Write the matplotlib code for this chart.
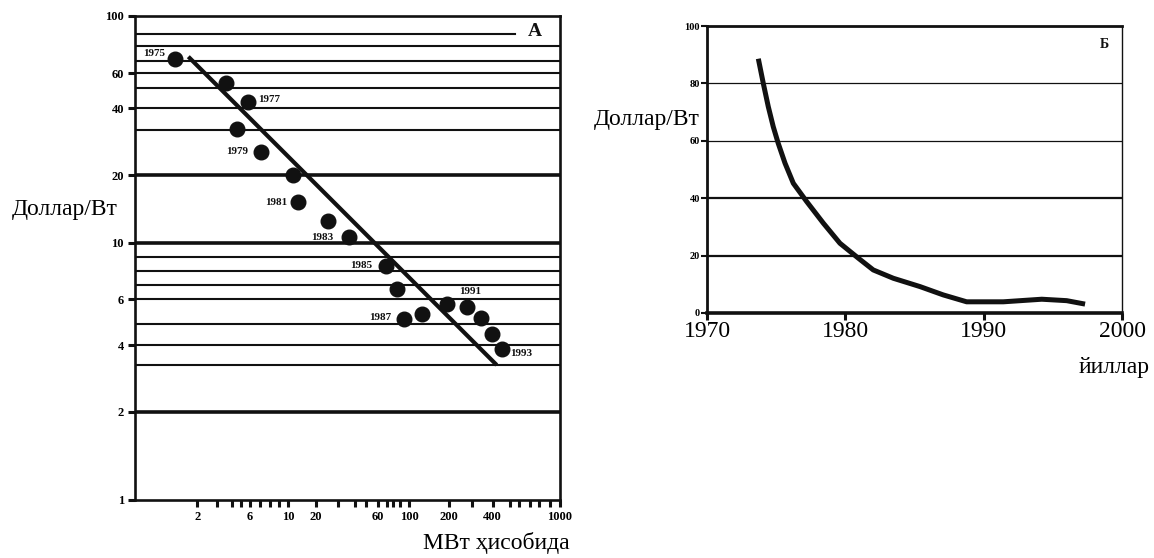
import numpy as np
import matplotlib
matplotlib.use("Agg")
import matplotlib.pyplot as plt

# --- panel A: module price vs cumulative production (log-log) ---
mw_values = [1.56, 3.59, 5.80, 4.6, 7.07, 11.4, 12.7, 25.2, 36.4,
             69.1, 84.9, 94.2, 124, 191, 274, 341, 395, 453]
price_a = [70.9, 53.1, 43.1, 30.3, 24.7, 20.0, 15.1, 12.5, 10.6,
           8.34, 6.68, 5.18, 5.38, 5.80, 5.68, 5.24, 4.50, 3.76]
year_labels = {0: "1975", 2: "1977", 4: "1979", 6: "1981", 8: "1983",
               9: "1985", 11: "1987", 14: "1991", 17: "1993"}
fit_mw = [1.81, 421]
fit_price = [72.6, 3.0]

x_ticks = [2, 3, 4, 5, 6, 7, 8, 9, 10, 20, 30, 40, 50, 60, 70, 80, 90,
           100, 200, 300, 400, 500, 600, 700, 800, 900, 1000]
x_labels = {2: "2", 6: "6", 10: "10", 20: "20", 60: "60", 100: "100",
            200: "200", 400: "400", 1000: "1000"}
y_ticks = [1, 2, 4, 6, 10, 20, 40, 60, 100]
grid_a = [2, 3, 4, 5, 6, 7, 8, 9, 10, 20, 30, 40, 50, 60, 70, 80, 90]
grid_a_thick = [2, 10, 20]

# --- panel B: price vs year ---
years_b = [1973.71, 1974.07, 1974.43, 1974.79, 1975.15, 1975.64, 1976.24,
           1977.21, 1978.41, 1979.61, 1980.94, 1982.02, 1983.47, 1985.40,
           1987.08, 1988.77, 1991.42, 1994.20, 1996.0, 1997.33]
price_b = [88.6, 80.0, 71.9, 64.9, 59.1, 52.2, 45.2, 38.8, 31.3, 24.3,
           19.1, 15.0, 12.1, 9.2, 6.3, 3.9, 3.9, 4.8, 4.3, 3.1]

# hand-drawn axis: where each tick sits along the axis (pixels of original)
x_anchor_vals = [1] + x_ticks
x_anchor_px = [135, 197.3, 216.7, 231.7, 240.7, 250, 260, 270, 279, 288,
               315.7, 337.7, 355, 366, 378.3, 386.7, 393.3, 400, 409.3,
               449.3, 471.7, 492.7, 510, 519, 530, 539, 550, 560]
y_anchor_vals = [1, 2, 3, 4, 5, 6, 7, 8, 9, 10, 20, 30, 40, 50, 60, 70, 80, 90, 100]
y_anchor_px = [500, 412, 365, 345, 324, 299.3, 285, 271, 256.7, 242.7,
               175, 130, 108.3, 88.3, 73.3, 60.7, 46, 34, 16]


def drawn_log_scale(vals, pos):
    lv = np.log10(vals)
    pos = np.asarray(pos, float)

    def fwd(v):
        v = np.clip(np.asarray(v, float), 1e-9, None)
        return np.interp(np.log10(v), lv, pos)

    def inv(p):
        return 10 ** np.interp(p, pos, lv)
    return fwd, inv


W, H = 1154, 558
plt.rcParams["font.family"] = ["Liberation Serif", "DejaVu Serif"]
fig = plt.figure(figsize=(W / 100, H / 100), dpi=100)

ink = "#111111"

# ---------------- panel A ----------------
axA = fig.add_axes([135 / W, 1 - 500 / H, 425 / W, 484 / H])
xp = (np.array(x_anchor_px) - 135) / 425
yp = (500 - np.array(y_anchor_px)) / 484
axA.set_xscale("function", functions=drawn_log_scale(x_anchor_vals, xp))
axA.set_yscale("function", functions=drawn_log_scale(y_anchor_vals, yp))
axA.set_xlim(1, 1000)
axA.set_ylim(1, 100)

for v in grid_a:
    thick = v in grid_a_thick
    xmax = 0.894 if v == 90 else 1
    axA.axhline(v, xmax=xmax, color=ink, lw=2.6 if thick else 1.5, zorder=1)

axA.plot(fit_mw, fit_price, color=ink, lw=3.0, solid_capstyle="butt", zorder=2)
axA.plot(mw_values, price_a, "o", color=ink, ms=10.5, zorder=3)

offsets = {0: (-7, 4.5, "right"), 2: (7, 1.5, "left"), 4: (-9.4, 0, "right"),
           6: (-7.5, 0, "right"), 8: (-11.5, 0, "right"), 9: (-9.6, 0.5, "right"),
           11: (-8.9, 1.2, "right"), 14: (2.4, 10.8, "center"), 17: (5.5, -2.9, "left")}
for i, lab in year_labels.items():
    dx, dy, ha = offsets[i]
    axA.annotate(lab, (mw_values[i], price_a[i]), xytext=(dx, dy),
                 textcoords="offset points", ha=ha, va="center",
                 fontsize=8, fontweight="bold", color=ink)

axA.set_xticks(x_ticks)
axA.set_xticklabels([x_labels.get(v, "") for v in x_ticks])
axA.set_yticks(y_ticks)
axA.set_yticklabels([str(v) for v in y_ticks])
axA.xaxis.set_minor_locator(matplotlib.ticker.NullLocator())
axA.yaxis.set_minor_locator(matplotlib.ticker.NullLocator())
axA.tick_params(axis="both", direction="out", length=5, width=2.2,
                color=ink, labelsize=9, pad=3)
for lab in axA.get_xticklabels() + axA.get_yticklabels():
    lab.set_fontweight("bold")
for sp in axA.spines.values():
    sp.set_linewidth(1.9)
    sp.set_color(ink)
axA.text((535 - 135) / 425, (500 - 32) / 484, "А", transform=axA.transAxes,
         ha="center", va="center", fontsize=14, fontweight="bold", color=ink)

fig.text(118 / W, 1 - 210 / H, "Доллар/Вт", ha="right", va="center", fontsize=17)
fig.text(570 / W, 1 - 543 / H, "МВт ҳисобида", ha="right", va="center", fontsize=17)

# ---------------- panel B ----------------
axB = fig.add_axes([707 / W, 1 - 313 / H, 415 / W, 287 / H])
axB.set_xlim(1970, 2000)
axB.set_ylim(0, 100)
for v, lw in [(20, 1.6), (40, 1.6), (60, 0.9), (80, 0.9)]:
    axB.axhline(v, color=ink, lw=lw, zorder=1)
axB.plot(years_b, price_b, color=ink, lw=3.6, solid_capstyle="butt",
         solid_joinstyle="round", zorder=2)
axB.set_xticks([1970, 1980, 1990, 2000])
axB.set_yticks([0, 20, 40, 60, 80, 100])
axB.tick_params(axis="x", direction="out", length=5, width=2.2, color=ink,
                labelsize=17, pad=1)
axB.tick_params(axis="y", direction="out", length=4, width=1.5, color=ink,
                labelsize=7.5, pad=1)
for lab in axB.get_yticklabels():
    lab.set_fontweight("bold")
axB.spines["left"].set_linewidth(2.0)
axB.spines["bottom"].set_linewidth(2.6)
axB.spines["top"].set_linewidth(2.0)
axB.spines["right"].set_linewidth(1.0)
for sp in axB.spines.values():
    sp.set_color(ink)
axB.text((1104 - 707) / 415, (313 - 45) / 287, "Б", transform=axB.transAxes,
         ha="center", va="center", fontsize=10, fontweight="bold", color=ink)

fig.text(700 / W, 1 - 120 / H, "Доллар/Вт", ha="right", va="center", fontsize=17)
fig.text(1150 / W, 1 - 367 / H, "йиллар", ha="right", va="center", fontsize=17)

fig.savefig("out.png", dpi=100)
plt.close(fig)
